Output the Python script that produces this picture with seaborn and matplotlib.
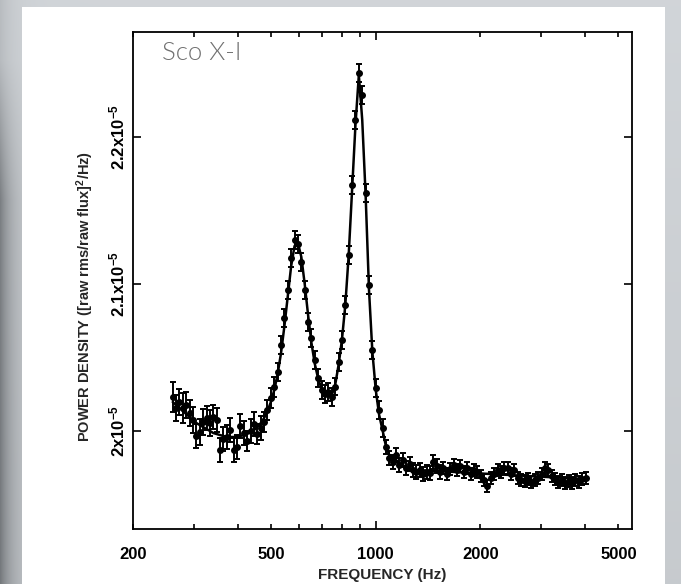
import numpy as np
import matplotlib
matplotlib.use("Agg")
import matplotlib.pyplot as plt
import seaborn as sns
from matplotlib.patches import Rectangle
from matplotlib.ticker import FixedLocator, FixedFormatter

# ---------------- data ----------------
freq_hz = [
    260.3, 266.2, 272.2, 278.4, 284.7, 291.2, 297.8, 304.6, 311.5, 318.5,
    325.8, 333.2, 340.7, 348.5, 356.4, 364.4, 372.7, 381.2, 389.8, 398.7,
    407.7, 417.0, 426.4, 436.1, 446.0, 456.1, 466.5, 477.1, 487.9, 498.9,
    510.3, 521.8, 533.7, 545.8, 558.2, 570.8, 583.8, 597.0, 610.6, 624.4,
    638.6, 653.1, 667.9, 683.1, 698.6, 714.4, 730.6, 747.2, 764.2, 781.5,
    799.2, 817.4, 835.9, 854.9, 874.3, 894.1, 914.4, 935.2, 956.4, 978.1,
    1000.3, 1023.0, 1046.2, 1069.9, 1094.2, 1119.0, 1144.4, 1170.4, 1197.0, 1224.1,
    1251.9, 1280.3, 1309.3, 1339.0, 1369.4, 1400.5, 1432.3, 1464.8, 1498.0, 1532.0,
    1566.8, 1602.3, 1638.7, 1675.9, 1713.9, 1752.8, 1792.5, 1833.2, 1874.8, 1917.4,
    1960.8, 2005.3, 2050.8, 2097.4, 2145.0, 2193.6, 2243.4, 2294.3, 2346.4, 2399.6,
    2454.1, 2509.7, 2566.7, 2624.9, 2684.5, 2745.4, 2807.7, 2871.4, 2936.5, 3003.2,
    3071.3, 3141.0, 3212.3, 3285.2, 3359.7, 3435.9, 3513.9, 3593.6, 3675.2, 3758.6,
    3843.8, 3931.1, 4020.3,
]

# power density in units of 1e-5 (raw rms/raw flux)^2/Hz
power_e5 = [
    2.0228, 2.0153, 2.0194, 2.0153, 2.0174, 2.0119, 2.0072, 1.9963, 1.9990, 2.0058,
    2.0085, 2.0051, 2.0092, 2.0072, 1.9867, 1.9942, 1.9956, 2.0003, 1.9867, 1.9888,
    2.0031, 1.9983, 1.9928, 1.9997, 2.0044, 1.9976, 2.0017, 2.0058, 2.0140, 2.0222,
    2.0297, 2.0399, 2.0583, 2.0767, 2.0958, 2.1176, 2.1299, 2.1271, 2.1149, 2.0958,
    2.0740, 2.0631, 2.0481, 2.0358, 2.0276, 2.0249, 2.0262, 2.0228, 2.0300, 2.0467,
    2.0617, 2.0856, 2.1196, 2.1674, 2.2117, 2.2437, 2.2287, 2.1620, 2.0992, 2.0550,
    2.0290, 2.0140, 2.0017, 1.9888, 1.9813, 1.9785, 1.9833, 1.9765, 1.9799, 1.9744,
    1.9772, 1.9731, 1.9717, 1.9731, 1.9703, 1.9717, 1.9710, 1.9785, 1.9758, 1.9717,
    1.9744, 1.9703, 1.9738, 1.9765, 1.9731, 1.9758, 1.9717, 1.9744, 1.9703, 1.9731,
    1.9717, 1.9690, 1.9663, 1.9622, 1.9676, 1.9703, 1.9731, 1.9717, 1.9744, 1.9744,
    1.9703, 1.9731, 1.9676, 1.9662, 1.9656, 1.9669, 1.9649, 1.9662, 1.9676, 1.9703,
    1.9744, 1.9731, 1.9690, 1.9669, 1.9649, 1.9662, 1.9642, 1.9656, 1.9642, 1.9662,
    1.9649, 1.9669, 1.9676,
]

power_err_e5 = [
    0.010, 0.009, 0.009, 0.010, 0.009, 0.009, 0.009, 0.008, 0.009, 0.009,
    0.008, 0.009, 0.008, 0.008, 0.008, 0.008, 0.008, 0.008, 0.008, 0.008,
    0.008, 0.008, 0.007, 0.008, 0.008, 0.007, 0.008, 0.007, 0.007, 0.007,
    0.007, 0.006, 0.006, 0.006, 0.006, 0.006, 0.006, 0.006, 0.006, 0.006,
    0.006, 0.006, 0.006, 0.006, 0.006, 0.006, 0.006, 0.006, 0.006, 0.006,
    0.006, 0.006, 0.006, 0.006, 0.006, 0.006, 0.006, 0.006, 0.006, 0.006,
    0.006, 0.006, 0.006, 0.005, 0.005, 0.005, 0.005, 0.005, 0.005, 0.005,
    0.005, 0.005, 0.005, 0.005, 0.005, 0.005, 0.005, 0.005, 0.005, 0.005,
    0.004, 0.004, 0.004, 0.004, 0.004, 0.004, 0.004, 0.004, 0.004, 0.004,
    0.004, 0.004, 0.004, 0.004, 0.004, 0.004, 0.004, 0.004, 0.004, 0.004,
    0.004, 0.004, 0.004, 0.004, 0.004, 0.004, 0.004, 0.004, 0.004, 0.004,
    0.004, 0.004, 0.004, 0.004, 0.004, 0.004, 0.004, 0.004, 0.004, 0.004,
    0.004, 0.004, 0.004,
]

# fitted model curve (two Lorentzians + continuum), units of 1e-5
model_e5 = [
    2.0194, 2.0174, 2.0153, 2.0133, 2.0112, 2.0092, 2.0072, 2.0051, 2.0037, 2.0024,
    2.0010, 1.9997, 1.9983, 1.9976, 1.9969, 1.9963, 1.9956, 1.9956, 1.9956, 1.9956,
    1.9963, 1.9969, 1.9976, 1.9990, 2.0003, 2.0024, 2.0051, 2.0085, 2.0133, 2.0194,
    2.0276, 2.0385, 2.0528, 2.0712, 2.0917, 2.1121, 2.1258, 2.1278, 2.1183, 2.0999,
    2.0787, 2.0596, 2.0453, 2.0351, 2.0283, 2.0249, 2.0235, 2.0242, 2.0310, 2.0446,
    2.0617, 2.0856, 2.1196, 2.1639, 2.2083, 2.2423, 2.2117, 2.1605, 2.0958, 2.0535,
    2.0276, 2.0106, 2.0003, 1.9894, 1.9833, 1.9819, 1.9799, 1.9778, 1.9765, 1.9751,
    1.9744, 1.9738, 1.9731, 1.9730, 1.9729, 1.9728, 1.9726, 1.9725, 1.9724, 1.9723,
    1.9721, 1.9720, 1.9719, 1.9718, 1.9716, 1.9715, 1.9714, 1.9713, 1.9711, 1.9710,
    1.9709, 1.9708, 1.9706, 1.9705, 1.9704, 1.9703, 1.9701, 1.9700, 1.9699, 1.9698,
    1.9696, 1.9695, 1.9694, 1.9693, 1.9691, 1.9690, 1.9689, 1.9688, 1.9686, 1.9685,
    1.9684, 1.9683, 1.9681, 1.9680, 1.9679, 1.9678, 1.9676, 1.9675, 1.9674, 1.9673,
    1.9671, 1.9670, 1.9669,
]

x_major_ticks = [1000]
x_major_labels = ["1000"]
x_minor_ticks = [200, 300, 400, 500, 600, 700, 800, 900, 2000, 3000, 4000, 5000]
x_minor_labels = ["200", "", "", "500", "", "", "", "", "2000", "", "", "5000"]
y_ticks_e5 = [2.0, 2.1, 2.2]
y_tick_labels = [r"2x10$^{-5}$", r"2.1x10$^{-5}$", r"2.2x10$^{-5}$"]

title_text = "Sco X-I"
x_label = "FREQUENCY (Hz)"
y_label = r"POWER DENSITY ([raw rms/raw flux]$^{2}$/Hz)"

# ---------------- style ----------------
sns.set_theme(style="white")
plt.rcParams["font.family"] = ["Liberation Sans", "DejaVu Sans"]
plt.rcParams["mathtext.fontset"] = "custom"
plt.rcParams["mathtext.rm"] = "Liberation Sans:bold"
plt.rcParams["mathtext.it"] = "Liberation Sans:bold"
plt.rcParams["mathtext.bf"] = "Liberation Sans:bold"
plt.rcParams["mathtext.default"] = "rm"

W, H = 681, 584
fig = plt.figure(figsize=(W / 100, H / 100), dpi=100)

# slide background (grey with soft shadow on the left)
bg = fig.add_axes([0, 0, 1, 1], zorder=-10)
xx = np.arange(W)[None, :]
yy = np.arange(H)[:, None]
vert = np.clip(yy / 200.0, 0.3, 1.0)
shade = 0.82 - 0.32 * np.exp(-xx / 14.0) * vert - 0.04 * (yy / H)
img = np.dstack([shade, shade + 0.015, shade + 0.03])
bg.imshow(np.clip(img, 0, 1), aspect="auto", extent=[0, 1, 0, 1],
          transform=bg.transAxes, origin="upper")
bg.set_axis_off()

fig.add_artist(Rectangle((22 / W, 0), (665 - 22) / W, (H - 7) / H,
                         transform=fig.transFigure, facecolor="white",
                         edgecolor="none", zorder=-5))

ax = fig.add_axes([133 / W, 55 / H, 499 / W, 497 / H])
ax.set_facecolor("white")
ax.set_xscale("log")

freq = np.array(freq_hz)
power = np.array(power_e5) * 1e-5
perr = np.array(power_err_e5) * 1e-5
model = np.array(model_e5) * 1e-5

sns.lineplot(x=freq, y=model, ax=ax, color="black", linewidth=1.8, zorder=3)
ax.errorbar(freq, power, yerr=perr, fmt="o", ms=4.0, color="black",
            ecolor="black", elinewidth=1.4, capsize=2.5, capthick=1.4, zorder=4)

ax.set_xlim(200, 5470)
ax.set_ylim(1.9329e-5, 2.2716e-5)

for s in ax.spines.values():
    s.set_visible(True)
    s.set_color("black")
    s.set_linewidth(1.3)

ax.xaxis.set_major_locator(FixedLocator(x_major_ticks))
ax.xaxis.set_major_formatter(FixedFormatter(x_major_labels))
ax.xaxis.set_minor_locator(FixedLocator(x_minor_ticks))
ax.xaxis.set_minor_formatter(FixedFormatter(x_minor_labels))
ax.set_yticks([v * 1e-5 for v in y_ticks_e5])
ax.set_yticklabels(y_tick_labels, rotation=90, va="center")

ax.tick_params(which="both", direction="in", top=True, right=True,
               bottom=True, left=True, colors="black", labelsize=12)
ax.tick_params(which="major", length=6, width=1.2)
ax.tick_params(which="minor", length=3.5, width=1.2)
ax.tick_params(axis="x", which="both", pad=13)
ax.tick_params(axis="y", which="both", pad=4)
for lab in ax.get_xticklabels(which="both") + ax.get_yticklabels():
    lab.set_fontweight("bold")

ax.set_xlabel(x_label, fontsize=11, fontweight="bold")
ax.set_ylabel(y_label, fontsize=10.5, fontweight="bold")
ax.xaxis.set_label_coords(0.5, -0.078)
ax.yaxis.set_label_coords(-0.074, 0.467)

ax.text(0.058, 0.944, title_text, transform=ax.transAxes, fontsize=18.5,
        family=["Lato", "DejaVu Sans"], fontweight=300, color="#707070",
        va="baseline", ha="left")

fig.savefig("out.png", dpi=100)
